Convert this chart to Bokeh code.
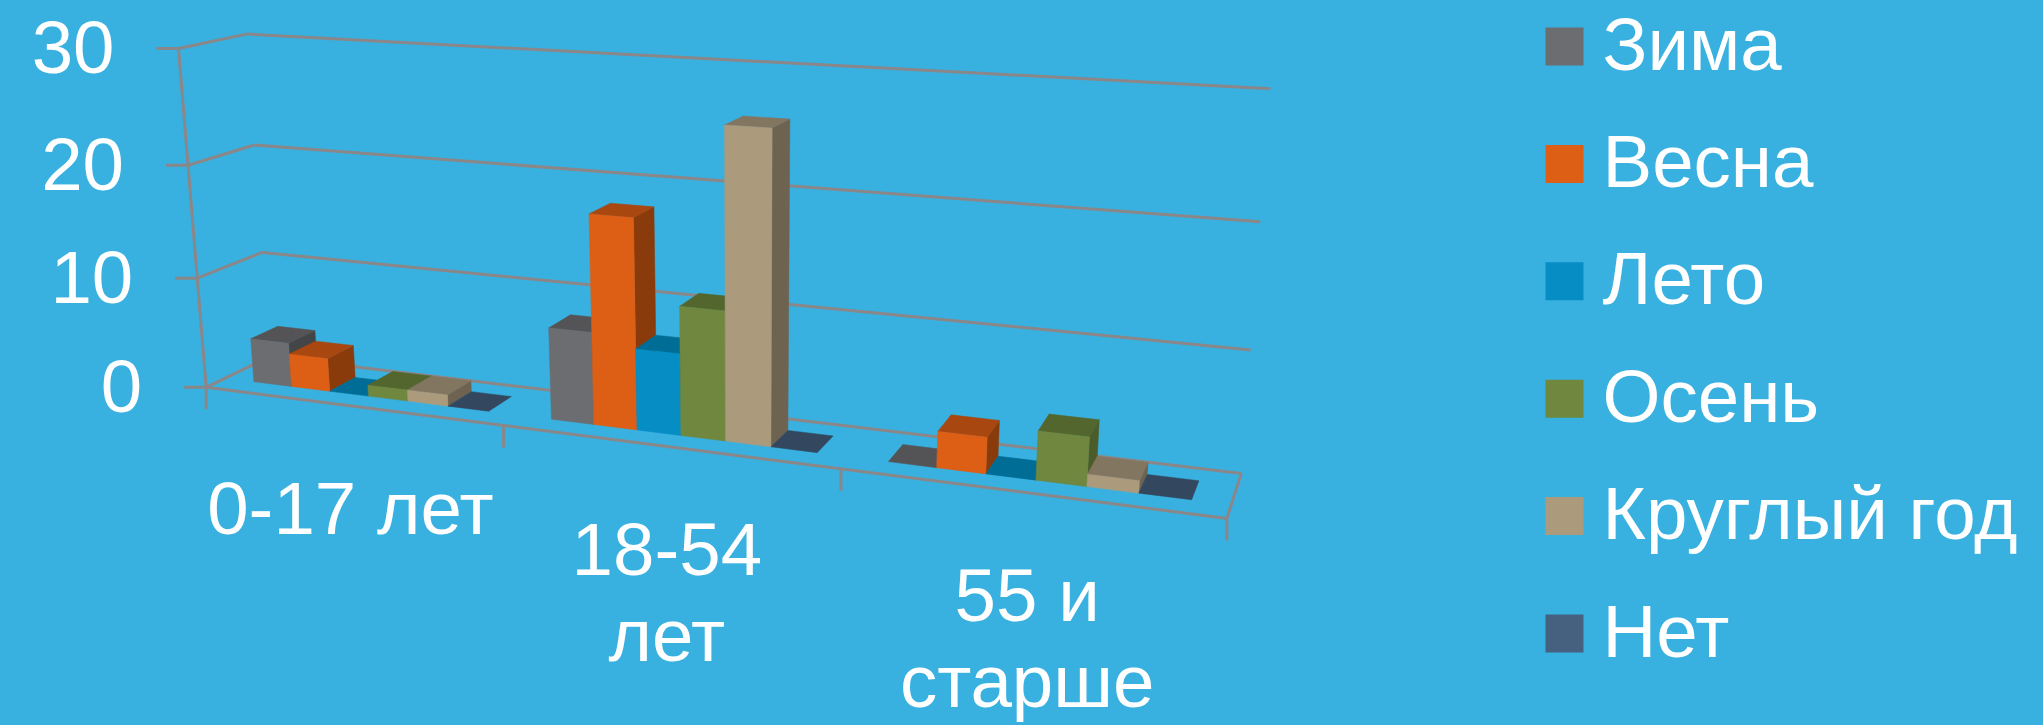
import numpy as np
from bokeh.plotting import figure
from bokeh.models import ColumnDataSource, Range1d
from bokeh.core.properties import value
from bokeh.embed import file_html
from bokeh.resources import INLINE

categories = ["0-17 лет", "18-54\nлет", "55 и\nстарше"]
series_names = ["Зима", "Весна", "Лето", "Осень", "Круглый год", "Нет"]
zima = [4, 8, 0]
vesna = [3, 18, 3]
leto = [0, 7, 0]
osen = [1, 11, 4]
krugly = [1, 26, 1]
net = [0, 0, 0]
value_ticks = [0, 10, 20, 30]

series_values = [zima, vesna, leto, osen, krugly, net]

BG = "#38b1e0"
GRID = "#8b8688"
FONT = value("Liberation Sans")
FONT_SIZE = "74.5px"
TEXT_DY = -29
front_col = ["#6c6d70", "#dd5f15", "#068dc4", "#6f873f", "#ab9a7c", "#46617f"]
top_col = ["#545456", "#a8470f", "#006d96", "#53662e", "#837660", "#33475f"]
side_col = ["#444547", "#8a3b0b", "#005a7c", "#4b5c2a", "#6e6350", "#2b3c50"]

# camera calibration of the 3D scene: (category u, depth d, value v) -> page pixel
calib = [
    ((0, 0, 0), (205, 386.7)), ((1, 0, 0), (503, 425)), ((2, 0, 0), (840, 468.3)),
    ((3, 0, 0), (1226.7, 518.3)), ((0, 1, 0), (270, 357)), ((3, 1, 0), (1240.7, 472.3)),
    ((0, 0, 10), (197, 277.3)), ((0, 0, 20), (188, 164.7)), ((0, 0, 30), (178.2, 48.3)),
    ((0, 1, 10), (261.7, 251.7)), ((0, 1, 20), (252.8, 144.3)), ((0, 1, 30), (246, 33.3)),
    ((3, 1, 10), (1250, 349.3)), ((3, 1, 20), (1260, 221.5)), ((3, 1, 30), (1270, 88.6)),
]
rows = []
for (u, d, v), (x, y) in calib:
    X = [u / 3, d, v / 30, 1]
    rows.append(X + [0, 0, 0, 0] + [-x * c for c in X])
    rows.append([0, 0, 0, 0] + X + [-y * c for c in X])
P = np.linalg.svd(np.array(rows, float))[2][-1].reshape(3, 4)


def proj(u, d, v):
    h = P @ np.array([u / 3, d, v / 30, 1.0])
    return h[0] / h[2], h[1] / h[2]


def poly(pts):
    q = [proj(*p) for p in pts]
    return [a for a, _ in q], [b for _, b in q]


p = figure(width=2043, height=725, x_range=Range1d(0, 2043), y_range=Range1d(725, 0),
           output_backend="svg", toolbar_location=None, min_border=0,
           background_fill_color=BG, border_fill_color=BG, outline_line_color=None)
p.axis.visible = False
p.grid.visible = False

# walls, floor and ticks
lines_x, lines_y = [], []


def seg(a, b):
    x, y = poly([a, b])
    lines_x.append(x)
    lines_y.append(y)


for t in value_ticks:
    seg((0, 0, t), (0, 1, t))
    seg((0, 1, t), (3, 1, t))
seg((0, 0, 0), (0, 0, max(value_ticks)))
seg((0, 0, 0), (3, 0, 0))
seg((3, 0, 0), (3, 1, 0))
TICK = 22
for t in value_ticks:
    x, y = proj(0, 0, t)
    lines_x.append([x, x - TICK])
    lines_y.append([y, y])
for k in range(len(categories) + 1):
    x, y = proj(k, 0, 0)
    lines_x.append([x, x])
    lines_y.append([y, y + TICK])
p.multi_line(lines_x, lines_y, line_color=GRID, line_width=3)

# bars, painted left to right
GROUP_START, GROUP_END = 0.103, 0.902
D0, D1 = 0.29, 0.72
w = (GROUP_END - GROUP_START) / len(series_values)
xs, ys, cols = [], [], []


def face(pts, c):
    x, y = poly(pts)
    xs.append(x)
    ys.append(y)
    cols.append(c)


for k in range(len(categories)):
    for i, vals in enumerate(series_values):
        v = vals[k]
        a = k + GROUP_START + i * w
        b = a + w
        if v > 0:
            face([(b, D0, 0), (b, D1, 0), (b, D1, v), (b, D0, v)], side_col[i])
        face([(a, D0, v), (b, D0, v), (b, D1, v), (a, D1, v)], top_col[i])
        if v > 0:
            face([(a, D0, 0), (b, D0, 0), (b, D0, v), (a, D0, v)], front_col[i])
p.patches("xs", "ys", fill_color="c", line_color="c", line_width=0.5,
          source=ColumnDataSource(dict(xs=xs, ys=ys, c=cols)))

# value labels
tx, ty, tt = [], [], []
for t in value_ticks:
    x, y = proj(0, 0, t)
    tx.append(x - TICK - 42)
    ty.append(y + 28 + TEXT_DY)
    tt.append(str(t))
p.text(tx, ty, tt, text_color="white", text_font=FONT, text_font_size=FONT_SIZE,
       text_align="right", text_baseline="alphabetic")

# category labels
tx, ty, tt = [], [], []
for k, c in enumerate(categories):
    x, y = proj(k + 0.5, 0, 0)
    for j, part in enumerate(c.split("\n")):
        tx.append(x)
        ty.append(y + 132 + j * 86 + TEXT_DY)
        tt.append(part)
p.text(tx, ty, tt, text_color="white", text_font=FONT, text_font_size=FONT_SIZE,
       text_align="center", text_baseline="alphabetic")

# legend
LEG_X, LEG_TOP, LEG_STEP, SW = 1545, 27, 117.4, 38
for i, name in enumerate(series_names):
    top = LEG_TOP + i * LEG_STEP
    p.quad(left=LEG_X, right=LEG_X + SW, top=top, bottom=top + SW, fill_color=front_col[i], line_color=None)
    p.text([LEG_X + 57], [top + 45.5 + TEXT_DY], [name], text_color="white", text_font=FONT,
           text_font_size=FONT_SIZE, text_align="left", text_baseline="alphabetic")

html = file_html(p, INLINE)
html = html.replace("</head>", "<style>html,body{background:%s;}</style></head>" % BG, 1)
open("out.html", "w").write(html)
